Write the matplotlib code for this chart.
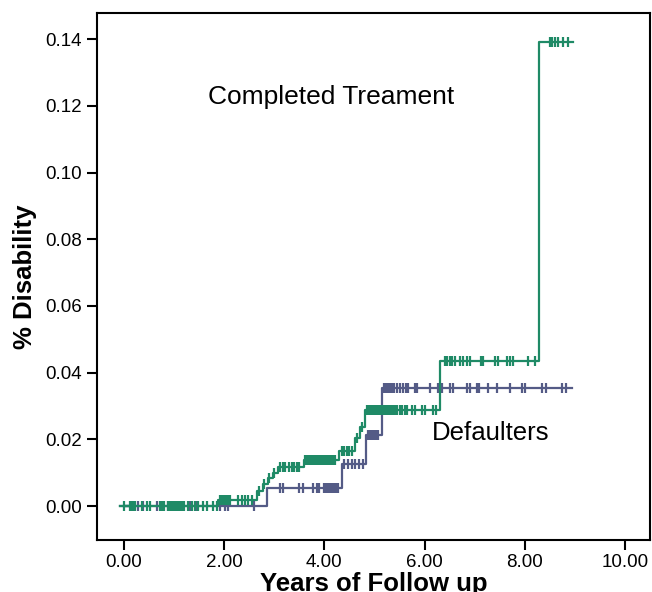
import numpy as np
import matplotlib.pyplot as plt

plt.rcParams['font.family'] = ['Liberation Sans', 'DejaVu Sans']

# Kaplan-Meier style cumulative disability
green_t = [0, 1.88, 2.65, 2.77, 2.87, 2.97, 3.07, 3.6, 4.3, 4.62, 4.71, 4.81, 6.31, 8.28]
green_v = [0, 0.0018, 0.0045, 0.0066, 0.0084, 0.0099, 0.0117, 0.0138, 0.0165, 0.0204,
           0.0237, 0.0288, 0.0435, 0.139]
green_end = 8.96
green_cens = [0.0, 0.12, 0.15, 0.18, 0.22, 0.36, 0.46, 0.52, 0.72, 0.76, 0.8, 0.88, 0.92,
              0.96, 1.0, 1.04, 1.08, 1.12, 1.16, 1.2, 1.28, 1.35, 1.41, 1.48, 1.58, 1.66,
              1.78, 1.86, 1.92, 1.96, 2.0, 2.04, 2.08, 2.12, 2.28, 2.35, 2.42, 2.48, 2.55,
              2.7, 2.8, 2.9, 3.0, 3.12, 3.17, 3.22, 3.3, 3.35, 3.4, 3.45, 3.5,
              3.62, 3.66, 3.7, 3.74, 3.78, 3.82, 3.86, 3.9, 3.94, 3.98, 4.02, 4.06, 4.1,
              4.14, 4.18, 4.22, 4.35, 4.4, 4.45, 4.5, 4.55, 4.65, 4.75,
              4.85, 4.89, 4.93, 4.97, 5.01, 5.05, 5.09, 5.13, 5.17, 5.21, 5.25, 5.29,
              5.33, 5.37, 5.41, 5.45, 5.5, 5.55, 5.6, 5.65, 5.75, 5.8, 5.95, 6.0, 6.17,
              6.23, 6.4, 6.45, 6.5, 6.55, 6.6, 6.7, 6.77, 6.84, 6.9, 7.13, 7.17, 7.4,
              7.47, 7.64, 7.7, 7.76, 8.07, 8.2, 8.5, 8.55, 8.6, 8.67, 8.77, 8.87]

blue_t = [0, 2.85, 4.35, 4.83, 5.15]
blue_v = [0, 0.0054, 0.0126, 0.0213, 0.0354]
blue_end = 8.94
blue_cens = [0.28, 0.38, 0.66, 0.88, 1.32, 1.46, 1.92, 2.02, 2.08, 2.6,
             3.12, 3.18, 3.5, 3.57, 3.77, 3.85, 3.9, 4.0, 4.04, 4.08, 4.12, 4.16, 4.2,
             4.24, 4.28, 4.4, 4.47, 4.55, 4.62, 4.7, 4.78, 4.88, 4.92, 4.96, 5.0, 5.04,
             5.08, 5.2, 5.24, 5.28, 5.32, 5.36, 5.4, 5.44, 5.5, 5.57, 5.62, 5.67, 5.8,
             5.85, 6.1, 6.27, 6.35, 6.5, 6.57, 6.85, 6.9, 7.05, 7.08, 7.27, 7.44, 7.7,
             7.94, 8.0, 8.34, 8.42, 8.74, 8.82]

green_col = '#1f8a66'
blue_col = '#545b86'


def level_at(times, vals, t):
    idx = np.searchsorted(times, t, side='right') - 1
    return np.asarray(vals)[idx]


fig = plt.figure(figsize=(6.52, 5.92), dpi=100)
ax = fig.add_axes([0.1488, 0.0878, 0.848, 0.89])

for times, vals, end, cens, col in [(blue_t, blue_v, blue_end, blue_cens, blue_col),
                                    (green_t, green_v, green_end, green_cens, green_col)]:
    ax.step(times + [end], vals + [vals[-1]], where='post', color=col, lw=1.6)
    ct = np.array(cens)
    ax.plot(ct, level_at(times, vals, ct), ls='none', marker='|', ms=7.5,
            mew=1.6, color=col)
    # small horizontal extension at the origin, like the "+" in the source
    ax.plot([-0.08, 0.08], [0, 0], color=col, lw=1.6)

ax.text(1.68, 0.1226, 'Completed Treament', fontsize=19, va='center', ha='left')
ax.text(6.15, 0.0219, 'Defaulters', fontsize=18.5, va='center', ha='left')

ax.set_xlim(-0.54, 10.5)
ax.set_ylim(-0.0102, 0.1478)
ax.set_xticks([0, 2, 4, 6, 8, 10])
ax.set_xticklabels(['0.00', '2.00', '4.00', '6.00', '8.00', '10.00'])
ax.set_yticks([0, 0.02, 0.04, 0.06, 0.08, 0.10, 0.12, 0.14])
ax.set_yticklabels(['0.00', '0.02', '0.04', '0.06', '0.08', '0.10', '0.12', '0.14'])
ax.tick_params(axis='both', length=7, width=1.5, labelsize=13.5, pad=4)
ax.tick_params(axis='x', pad=3)
for s in ax.spines.values():
    s.set_linewidth(1.5)

ax.set_xlabel('Years of Follow up', fontsize=18.5, fontweight='bold', labelpad=1)
ax.set_ylabel('% Disability', fontsize=18.5, fontweight='bold', labelpad=6)

fig.savefig('out.png', dpi=100)
